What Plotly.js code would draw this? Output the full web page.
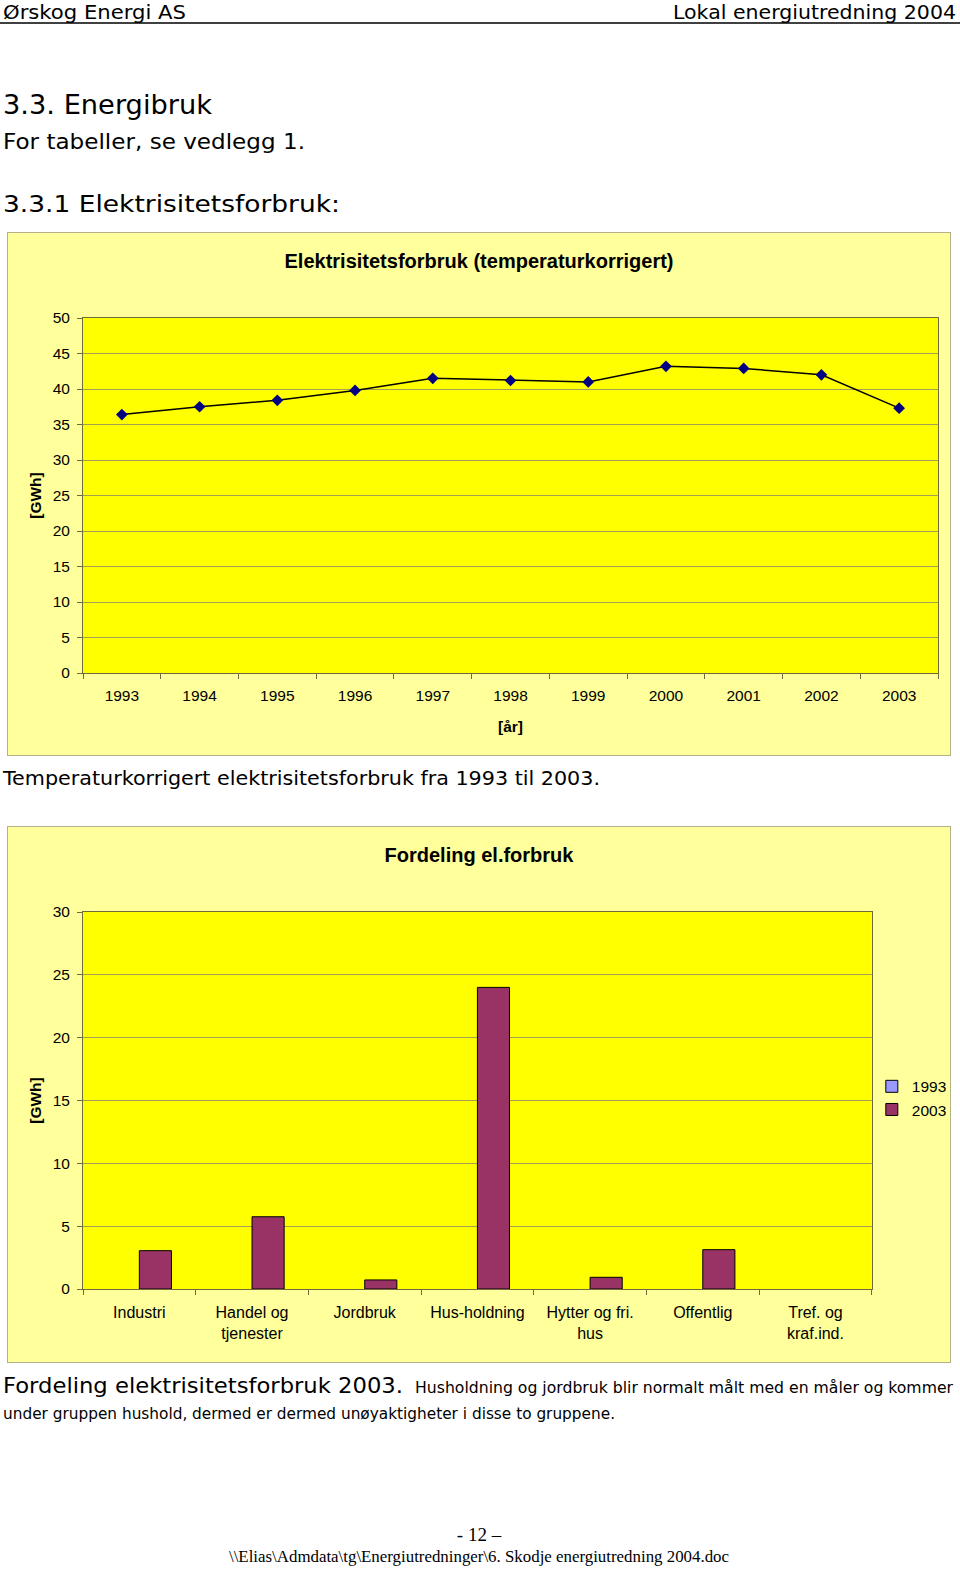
<!DOCTYPE html>
<html>
<head>
<meta charset="utf-8">
<script src="https://cdn.plot.ly/plotly-3.0.1.min.js"></script>
<style>
  html, body { margin: 0; padding: 0; background: #ffffff; }
  body { width: 960px; height: 1570px; position: relative; overflow: hidden; }
  #page { position: absolute; left: 0; top: 0; }
  .chart { position: absolute; box-shadow: 0 0 0 1px #b3b08a; }
  #chart1 { left: 8px; top: 233px; width: 942px; height: 522px; }
  #chart2 { left: 8px; top: 827px; width: 942px; height: 535px; }
</style>
</head>
<body>
<svg id="page" width="960" height="1570" xmlns="http://www.w3.org/2000/svg">
  <g font-family="DejaVu Sans, sans-serif" fill="#000">
    <text x="3" y="19" font-size="19" textLength="183" lengthAdjust="spacingAndGlyphs">Ørskog Energi AS</text>
    <text x="956" y="19" font-size="19" text-anchor="end" textLength="283" lengthAdjust="spacingAndGlyphs">Lokal energiutredning 2004</text>
    <line x1="0" y1="23" x2="960" y2="23" stroke="#000" stroke-width="1.5"/>
    <text x="3" y="114" font-size="26" textLength="209" lengthAdjust="spacingAndGlyphs">3.3. Energibruk</text>
    <text x="3" y="149" font-size="21" textLength="302" lengthAdjust="spacingAndGlyphs">For tabeller, se vedlegg 1.</text>
    <text x="3" y="212" font-size="23" textLength="337" lengthAdjust="spacingAndGlyphs">3.3.1 Elektrisitetsforbruk:</text>
    <text x="3" y="785" font-size="20" textLength="597" lengthAdjust="spacingAndGlyphs">Temperaturkorrigert elektrisitetsforbruk fra 1993 til 2003.</text>
    <text x="3" y="1393" font-size="22" textLength="400" lengthAdjust="spacingAndGlyphs">Fordeling elektrisitetsforbruk 2003.</text>
    <text x="415" y="1393" font-size="15" font-family="DejaVu Sans Condensed, DejaVu Sans, sans-serif" textLength="538" lengthAdjust="spacingAndGlyphs">Husholdning og jordbruk blir normalt målt med en måler og kommer</text>
    <text x="3" y="1419" font-size="16" textLength="612" lengthAdjust="spacingAndGlyphs">under gruppen hushold, dermed er dermed unøyaktigheter i disse to gruppene.</text>
  </g>
  <g font-family="Liberation Serif, serif" fill="#000">
    <text x="479" y="1541" font-size="19" text-anchor="middle">- 12 –</text>
    <text x="479" y="1562" font-size="16" text-anchor="middle" textLength="500" lengthAdjust="spacingAndGlyphs">\\Elias\Admdata\tg\Energiutredninger\6. Skodje energiutredning 2004.doc</text>
  </g>
</svg>
<div id="chart1" class="chart"></div>
<div id="chart2" class="chart"></div>
<script>
// ---- Chart 1 data ----
const years = ['1993','1994','1995','1996','1997','1998','1999','2000','2001','2002','2003'];
const consumptionGWh = [36.4, 37.5, 38.4, 39.8, 41.5, 41.2, 41.0, 43.2, 42.9, 42.0, 37.3];
const yTicks1 = [0, 5, 10, 15, 20, 25, 30, 35, 40, 45, 50];

// ---- Chart 2 data ----
const sectors = ['Industri', 'Handel og<br>tjenester', 'Jordbruk', 'Hus-holdning', 'Hytter og fri.<br>hus', 'Offentlig', 'Tref. og<br>kraf.ind.'];
const values1993 = [null, null, null, null, null, null, null];
const values2003 = [3.05, 5.75, 0.72, 24.0, 0.93, 3.13, 0];
const yTicks2 = [0, 5, 10, 15, 20, 25, 30];

const FONT = 'Liberation Sans, Arial, sans-serif';
const PAPER = '#ffff9c';
const PLOT = '#ffff00';
const GRID = '#a3a155';
const LINE = '#6e6c3c';

const axisY = (ticks) => ({
  range: [ticks[0], ticks[ticks.length - 1]],
  tickvals: ticks,
  ticktext: ticks.map(String),
  ticks: 'outside', ticklen: 5, tickcolor: LINE,
  ticklabelstandoff: 4,
  showline: true, linecolor: LINE, linewidth: 1, mirror: true,
  showgrid: true, gridcolor: GRID, gridwidth: 1,
  zeroline: false,
  tickfont: {family: FONT, size: 15.5, color: '#000'},
  fixedrange: true
});

// Chart 1
Plotly.newPlot('chart1', [{
  type: 'scatter', mode: 'lines+markers',
  x: years, y: consumptionGWh,
  line: {color: '#000000', width: 1.5},
  marker: {symbol: 'diamond', size: 9, color: '#000080', line: {color: '#000080', width: 0}},
  showlegend: false, hoverinfo: 'x+y'
}], {
  width: 942, height: 522,
  margin: {l: 75, r: 12, t: 85, b: 82},
  paper_bgcolor: PAPER, plot_bgcolor: PLOT,
  title: {text: 'Elektrisitetsforbruk (temperaturkorrigert)', font: {family: FONT, size: 20, color: '#000', weight: 'bold'}, x: 0.5, xanchor: 'center', y: 1, yanchor: 'top', yref: 'container', pad: {t: 21}},
  xaxis: {
    type: 'category', categoryorder: 'array', categoryarray: years,
    range: [-0.5, years.length - 0.5], autorange: false,
    tickson: 'boundaries', ticks: 'outside', ticklen: 5, tickcolor: LINE,
    ticklabelstandoff: 8,
    showline: true, linecolor: LINE, mirror: true, showgrid: false,
    tickfont: {family: FONT, size: 15.5, color: '#000'},
    title: {text: '[år]', font: {family: FONT, size: 15.5, color: '#000', weight: 'bold'}, standoff: 18},
    fixedrange: true
  },
  yaxis: Object.assign(axisY(yTicks1), {
    title: {text: '[GWh]', font: {family: FONT, size: 15.5, color: '#000', weight: 'bold'}, standoff: 7}
  })
}, {displayModeBar: false, staticPlot: true});

// Chart 2
Plotly.newPlot('chart2', [{
  type: 'bar', name: '1993', x: sectors, y: values1993,
  marker: {color: '#9999ff', line: {color: '#000', width: 1}}
}, {
  type: 'bar', name: '2003', x: sectors, y: values2003,
  marker: {color: '#993366', line: {color: '#000', width: values2003.map(v => (v > 0 ? 1 : 0))}}
}], {
  width: 942, height: 535,
  margin: {l: 75, r: 77, t: 85, b: 73},
  paper_bgcolor: PAPER, plot_bgcolor: PLOT,
  barmode: 'group', bargap: 0.43, bargroupgap: 0,
  title: {text: 'Fordeling el.forbruk', font: {family: FONT, size: 20, color: '#000', weight: 'bold'}, x: 0.5, xanchor: 'center', y: 1, yanchor: 'top', yref: 'container', pad: {t: 21}},
  xaxis: {
    type: 'category', categoryorder: 'array', categoryarray: sectors,
    tickson: 'boundaries', ticks: 'outside', ticklen: 5, tickcolor: LINE,
    ticklabelstandoff: 9,
    showline: true, linecolor: LINE, mirror: true, showgrid: false,
    tickfont: {family: FONT, size: 16, color: '#000'},
    fixedrange: true
  },
  yaxis: Object.assign(axisY(yTicks2), {
    title: {text: '[GWh]', font: {family: FONT, size: 15.5, color: '#000', weight: 'bold'}, standoff: 7}
  }),
  legend: {
    xref: 'container', yref: 'container',
    x: 0.917, xanchor: 'left', y: 0.493, yanchor: 'middle',
    bgcolor: 'rgba(0,0,0,0)', borderwidth: 0,
    font: {family: FONT, size: 15.5, color: '#000'},
    itemwidth: 30, tracegroupgap: 4
  }
}, {displayModeBar: false, staticPlot: true});
</script>
</body>
</html>
